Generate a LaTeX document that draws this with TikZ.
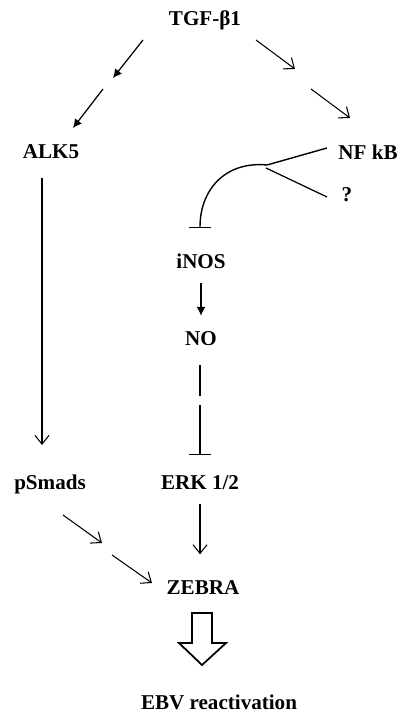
\documentclass[tikz,border=0pt]{standalone}
\usepackage{fontspec}
\setmainfont{Liberation Serif}
\usepackage{tikz}
\usetikzlibrary{arrows.meta}

\tikzset{
    lbl/.style={font=\bfseries\fontsize{12}{14}\selectfont, inner sep=1pt},
    solidtip/.style={line width=0.7pt, -{Latex[length=5pt,width=5pt]}},
    opentip/.style={line width=0.6pt, -{Straight Barb[length=5pt,width=8pt]}},
    blocktip/.style={line width=0.8pt, -{Bar[width=13pt,line width=0.8pt]}}
}

\begin{document}
\begin{tikzpicture}[x=0.02cm,y=-0.02cm]
        \useasboundingbox (0,0) rectangle (399,715);
        % labels
        \node[lbl] (tgf) at (205,20) {TGF-β1};
        \node[lbl] (alk5) at (51,152) {ALK5};
        \node[lbl] (nfkb) at (368,152) {NF kB};
        \node[lbl] (unk) at (347,195) {?};
        \node[lbl] (inos) at (201,261) {iNOS};
        \node[lbl] (no) at (201,339) {NO};
        \node[lbl] (psmads) at (50,484) {pSmads};
        \node[lbl] (erk) at (200,483) {ERK 1/2};
        \node[lbl] (zebra) at (203,588) {ZEBRA};
        \node[lbl] (ebv) at (219,702) {EBV reactivation};
        % break points of the split arrows
        \coordinate (l1) at (143,40);  \coordinate (l2) at (113,78);
        \coordinate (l3) at (103,89);  \coordinate (l4) at (73,128);
        \coordinate (r1) at (256,40);  \coordinate (r2) at (295,69);
        \coordinate (r3) at (311,89);  \coordinate (r4) at (350,118);
        \coordinate (s1) at (63,515);  \coordinate (s2) at (102,543);
        \coordinate (s3) at (112,555); \coordinate (s4) at (152,583);
        \coordinate (n1) at (200,365); \coordinate (n2) at (200,396);
        \coordinate (n3) at (200,405); \coordinate (n4) at (200,455);
        \coordinate (nfkbout) at (327,148);
        \coordinate (unkin) at (327,197);
        \coordinate (fork) at (267,165);
        \coordinate (forklow) at (266,168);
        \coordinate (inosbar) at (200,228);
        \coordinate (alktop) at (42,178);
        \coordinate (alkbot) at (42,445);
        % TGF-b1 branches
        \draw[solidtip] (l1)--(l2);
        \draw[solidtip] (l3)--(l4);
        \draw[opentip] (r1)--(r2);
        \draw[opentip] (r3)--(r4);
        % NFkB to iNOS
        \draw[blocktip] (nfkbout) -- (fork)
            .. controls (225,161) and (200,190) .. (inosbar);
        \draw[line width=0.7pt] (forklow) -- (unkin);
        % middle column
        \draw[opentip] (alktop)--(alkbot);
        \draw[solidtip, shorten <=7pt, shorten >=8pt] (inos) -- (no);
        \draw[line width=0.7pt] (n1)--(n2);
        \draw[blocktip] (n3)--(n4);
        \draw[opentip, shorten <=7pt, shorten >=14pt] (erk.south) -- (erk.south |- zebra.north);
        \draw[opentip] (s1)--(s2);
        \draw[opentip] (s3)--(s4);
        % big hollow arrow
        \draw[line width=1pt] (192,613) -- (212,613) -- (212,643) -- (226,643)
            -- (202,665) -- (179,643) -- (192,643) -- cycle;
    \end{tikzpicture}
\end{document}
